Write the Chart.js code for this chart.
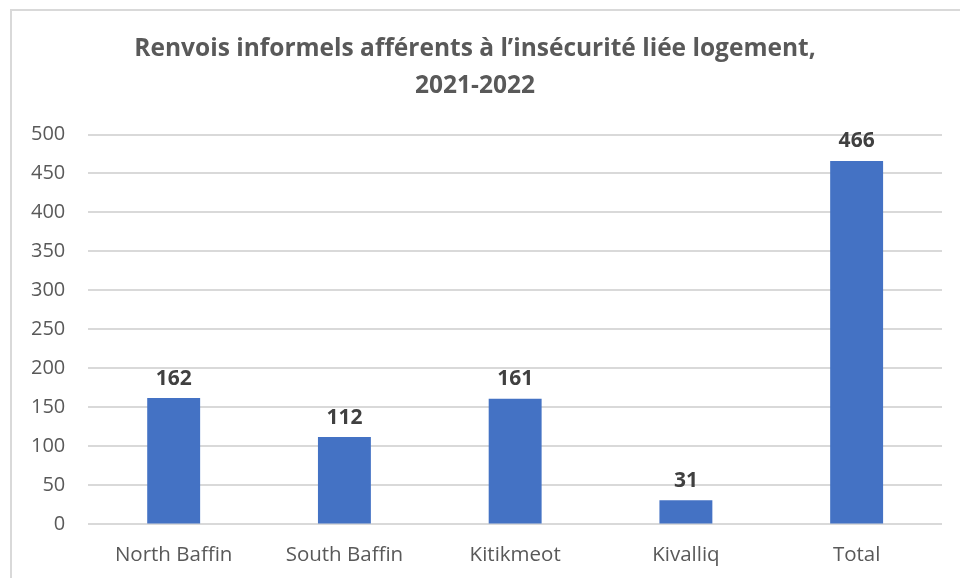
<!DOCTYPE html>
<html>
<head>
<meta charset="utf-8">
<script src="https://cdn.jsdelivr.net/npm/chart.js@4"></script>
<style>
  html, body { margin: 0; padding: 0; background: #fff; overflow: hidden; }
  #frame { position: absolute; left: 10px; top: 9px; width: 980px; height: 600px; border: 2px solid #d9d9d9; }
  #wrap { position: absolute; left: 0; top: 0; width: 960px; height: 578px; }
</style>
</head>
<body>
<div id="frame"></div>
<div id="wrap"><canvas id="barChart"></canvas></div>
<script>
const regions = ['North Baffin', 'South Baffin', 'Kitikmeot', 'Kivalliq', 'Total'];
const referrals = [162, 112, 161, 31, 466];
const titleLines = ['Renvois informels afférents à l\u2019insécurité liée logement,', '2021-2022'];

// draws the value above each bar
const barValues = {
  id: 'barValues',
  afterDatasetsDraw(chart) {
    const ctx = chart.ctx;
    const meta = chart.getDatasetMeta(0);
    ctx.save();
    ctx.font = 'bold 21px "Open Sans", sans-serif';
    ctx.fillStyle = '#404040';
    ctx.textAlign = 'center';
    ctx.textBaseline = 'bottom';
    meta.data.forEach((bar, i) => {
      ctx.fillText(chart.data.datasets[0].data[i], bar.x, bar.y - 9);
    });
    ctx.restore();
  }
};

const barCtx = document.getElementById('barChart');
new Chart(barCtx, {
  type: 'bar',
  data: {
    labels: regions,
    datasets: [
      {
        data: referrals,
        backgroundColor: '#4472c4',
        categoryPercentage: 1,
        barPercentage: 0.31
      }
    ]
  },
  options: {
    responsive: true,
    maintainAspectRatio: false,
    animation: false,
    layout: { padding: { left: 8, right: 18, top: 31, bottom: 1 } },
    plugins: {
      legend: { display: false },
      tooltip: { enabled: false },
      title: {
        display: true,
        text: titleLines,
        color: '#595959',
        font: { family: '"Open Sans", sans-serif', size: 24.5, weight: 'bold', lineHeight: 1.5 },
        padding: { top: 0, bottom: 30 }
      }
    },
    scales: {
      x: {
        grid: { display: false },
        border: { display: false },
        ticks: { color: '#595959', font: { family: '"Open Sans", sans-serif', size: 20.5 }, padding: 10 },
        afterFit: s => { s.paddingLeft = 0; s.paddingRight = 0; }
      },
      y: {
        min: 0,
        max: 500,
        grid: { color: '#d9d9d9', lineWidth: 2, drawTicks: false },
        border: { display: false },
        ticks: { stepSize: 50, color: '#595959', font: { family: '"Open Sans", sans-serif', size: 20 }, padding: 23 }
      }
    }
  },
  plugins: [barValues]
});
</script>
</body>
</html>
